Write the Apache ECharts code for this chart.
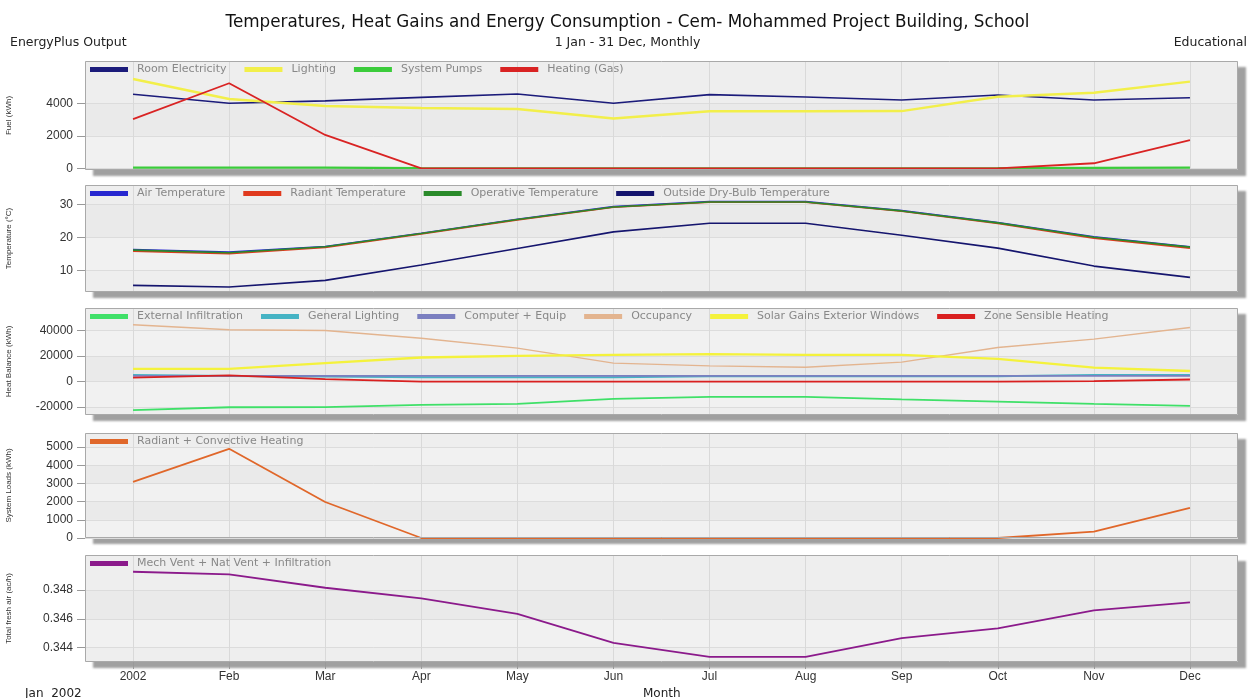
<!DOCTYPE html>
<html>
<head>
<meta charset="utf-8">
<title>Temperatures, Heat Gains and Energy Consumption</title>
<script src="https://cdn.jsdelivr.net/npm/echarts@6/dist/echarts.min.js"></script>
<style>
  html, body { margin: 0; padding: 0; background: #ffffff; }
  #chart { width: 1255px; height: 698px; }
</style>
</head>
<body>
<div id="chart"></div>
<script>
// Monthly categories (first tick carries the year)
const months = ['2002', 'Feb', 'Mar', 'Apr', 'May', 'Jun', 'Jul', 'Aug', 'Sep', 'Oct', 'Nov', 'Dec'];

// Fuel (kWh)
const roomElectricity = [4550, 4000, 4150, 4360, 4570, 4000, 4530, 4390, 4200, 4510, 4200, 4340];
const lighting        = [5490, 4260, 3830, 3710, 3650, 3060, 3510, 3510, 3520, 4400, 4650, 5330];
const systemPumps     = [45, 50, 40, 10, 0, 0, 0, 0, 0, 5, 30, 45];
const heatingGas      = [3030, 5230, 2050, 0, 0, 0, 0, 0, 0, 0, 310, 1740];

// Temperature (°C)
const airTemp       = [16.4, 15.6, 17.3, 21.3, 25.5, 29.3, 30.8, 30.8, 28.1, 24.5, 20.2, 17.2];
const radiantTemp   = [15.9, 15.1, 17.0, 21.1, 25.3, 29.1, 30.6, 30.6, 27.9, 24.2, 19.8, 16.8];
const operativeTemp = [16.2, 15.4, 17.2, 21.2, 25.4, 29.2, 30.7, 30.7, 28.0, 24.4, 20.1, 17.1];
const outsideTemp   = [5.6, 5.1, 7.1, 11.7, 16.7, 21.7, 24.3, 24.3, 20.7, 16.8, 11.4, 8.0];

// Heat balance (kWh)
const extInfiltration = [-22300, -20100, -20000, -18300, -17500, -13600, -12000, -12000, -13900, -15700, -17500, -19100];
const generalLighting = [5300, 4500, 4000, 3500, 3500, 3500, 4300, 4300, 4300, 4300, 5300, 5300];
const computerEquip   = [4500, 4500, 4500, 4500, 4500, 4500, 4500, 4500, 4500, 4500, 4500, 4500];
const occupancy       = [44600, 40700, 40100, 34100, 26300, 14500, 12400, 11300, 15300, 26800, 33400, 42500];
const solarGains      = [10000, 10000, 14500, 18900, 20200, 21000, 21600, 21000, 21000, 17900, 11000, 8400];
const zoneHeating     = [3080, 4900, 1980, 0, 0, 0, 0, 0, 0, 0, 350, 1660];

// System loads (kWh)
const radConvHeating = [3080, 4900, 1980, 0, 0, 0, 0, 0, 0, 0, 350, 1660];

// Total fresh air (ac/h)
const freshAir = [0.34927, 0.34909, 0.34816, 0.34742, 0.34634, 0.34433, 0.34336, 0.34336, 0.34466, 0.34534, 0.34659, 0.34715];

// Axis tick values per panel
const fuelTicks = [0, 2000, 4000];
const tempTicks = [10, 20, 30];
const balanceTicks = [-20000, 0, 20000, 40000];
const loadTicks = [0, 1000, 2000, 3000, 4000, 5000];
const airTicks = [0.344, 0.346, 0.348];

const FONT = '"Liberation Sans", Arial, sans-serif';
const WIDE = '"DejaVu Sans", sans-serif';
const monthIdx = months.map((m, i) => i);

// Panel layout
const W = 1255, PL = 85, PR = 17;
const panelTops = [61, 185, 308, 433, 555];
const panelHeights = [109, 107, 107, 105, 107];

const grids = panelTops.map((t, i) => ({
  left: PL, right: PR, top: t, height: panelHeights[i],
  outerBoundsMode: 'none',
  containLabel: false,
  show: true,
  backgroundColor: '#eeeeee',
  borderWidth: 0,
  shadowColor: 'rgba(150,150,150,0.9)',
  shadowBlur: 2,
  shadowOffsetX: 8,
  shadowOffsetY: 6
}));

const xAxes = panelTops.map((t, i) => {
  const last = i === panelTops.length - 1;
  return {
    type: 'value', gridIndex: i, min: -0.5, max: 11.5,
    axisLine: { show: false, onZero: false },
    axisTick: { show: last, customValues: monthIdx, length: 7, lineStyle: { color: '#999' } },
    axisLabel: {
      show: last, customValues: monthIdx, margin: 9,
      fontFamily: FONT, fontSize: 12, color: '#333',
      formatter: v => months[Math.round(v)]
    },
    splitLine: { show: true, lineStyle: { color: '#d9d9d9', width: 1 } }
  };
});

function yAxis(i, name, min, max, ticks, fmt) {
  return {
    type: 'value', gridIndex: i, min: min, max: max,
    name: name, nameLocation: 'middle', nameGap: 72, nameRotate: 90,
    nameTextStyle: { fontFamily: FONT, fontSize: 8, color: '#333' },
    axisLine: { show: false, onZero: false },
    axisTick: { show: true, customValues: ticks, length: 8, lineStyle: { color: '#999' } },
    axisLabel: {
      customValues: ticks, margin: 12,
      fontFamily: FONT, fontSize: 12, color: '#333',
      formatter: fmt || (v => String(v))
    },
    splitLine: { show: true, lineStyle: { color: '#dcdcdc', width: 1 } },
    splitArea: { show: true, areaStyle: { color: ['#f1f1f1', '#eaeaea'] } }
  };
}

const yAxes = [
  yAxis(0, 'Fuel (kWh)', -105, 6600, fuelTicks),
  yAxis(1, 'Temperature (°C)', 3.6, 35.8, tempTicks),
  yAxis(2, 'Heat Balance (kWh)', -26200, 57800, balanceTicks),
  yAxis(3, 'System Loads (kWh)', 0, 5770, loadTicks),
  yAxis(4, 'Total fresh air (ac/h)', 0.34301, 0.35043, airTicks, v => v.toFixed(3))
];

function line(name, values, color, width, gi) {
  return {
    name: name, type: 'line', xAxisIndex: gi, yAxisIndex: gi,
    data: values.map((v, i) => [i, v]),
    symbol: 'none', smooth: false, animation: false,
    lineStyle: { color: color, width: width },
    itemStyle: { color: color }
  };
}

const series = [
  line('Room Electricity', roomElectricity, '#1b1b7a', 1.6, 0),
  line('Lighting', lighting, '#f2ef4a', 2.4, 0),
  line('System Pumps', systemPumps, '#3bcc3b', 2.2, 0),
  line('Heating (Gas)', heatingGas, '#d92323', 1.8, 0),

  line('Air Temperature', airTemp, '#2727d0', 1.6, 1),
  line('Radiant Temperature', radiantTemp, '#e03a1e', 1.6, 1),
  line('Operative Temperature', operativeTemp, '#2a8a2a', 1.6, 1),
  line('Outside Dry-Bulb Temperature', outsideTemp, '#15156e', 1.6, 1),

  line('External Infiltration', extInfiltration, '#3fe068', 1.8, 2),
  line('General Lighting', generalLighting, '#45b3c4', 2, 2),
  line('Computer + Equip', computerEquip, '#7b7fc0', 1.8, 2),
  line('Occupancy', occupancy, '#e3b48f', 1.4, 2),
  line('Solar Gains Exterior Windows', solarGains, '#f4f23c', 2.4, 2),
  line('Zone Sensible Heating', zoneHeating, '#d92020', 1.8, 2),

  line('Radiant + Convective Heating', radConvHeating, '#e0672a', 1.8, 3),

  line('Mech Vent + Nat Vent + Infiltration', freshAir, '#8b1a8b', 1.8, 4)
];

const legendGroups = [
  ['Room Electricity', 'Lighting', 'System Pumps', 'Heating (Gas)'],
  ['Air Temperature', 'Radiant Temperature', 'Operative Temperature', 'Outside Dry-Bulb Temperature'],
  ['External Infiltration', 'General Lighting', 'Computer + Equip', 'Occupancy', 'Solar Gains Exterior Windows', 'Zone Sensible Heating'],
  ['Radiant + Convective Heating'],
  ['Mech Vent + Nat Vent + Infiltration']
];

const legends = legendGroups.map((names, i) => ({
  data: names,
  left: PL, top: panelTops[i] - 2,
  orient: 'horizontal',
  icon: 'rect', itemWidth: 38, itemHeight: 5, itemGap: 18,
  selectedMode: false,
  textStyle: { fontFamily: WIDE, fontSize: 11, color: '#888888', padding: [0, 0, 0, 4] }
}));

// Thin frame drawn over each panel
const frames = panelTops.map((t, i) => ({
  type: 'rect', silent: true, z: 100,
  shape: { x: PL + 0.5, y: t + 0.5, width: W - PL - PR - 1, height: panelHeights[i] - 1 },
  style: { fill: null, stroke: '#a9a9a9', lineWidth: 1 }
}));

const chart = echarts.init(document.getElementById('chart'), null, { renderer: 'canvas' });
chart.setOption({
  backgroundColor: '#ffffff',
  animation: false,
  title: [
    { text: 'Temperatures, Heat Gains and Energy Consumption - Cem- Mohammed Project Building, School',
      left: 'center', top: 9,
      textStyle: { fontFamily: WIDE, fontSize: 16.8, fontWeight: 'normal', color: '#111' } },
    { text: '1 Jan - 31 Dec, Monthly', left: 'center', top: 31,
      textStyle: { fontFamily: WIDE, fontSize: 12.5, fontWeight: 'normal', color: '#222' } },
    { text: 'EnergyPlus Output', left: 5, top: 31,
      textStyle: { fontFamily: WIDE, fontSize: 12.5, fontWeight: 'normal', color: '#222' } },
    { text: 'Educational', right: 3, top: 31,
      textStyle: { fontFamily: WIDE, fontSize: 12.5, fontWeight: 'normal', color: '#222' } },
    { text: 'Jan  2002', left: 20, top: 683,
      textStyle: { fontFamily: WIDE, fontSize: 12, fontWeight: 'normal', color: '#222' } },
    { text: 'Month', left: 638, top: 683,
      textStyle: { fontFamily: WIDE, fontSize: 12, fontWeight: 'normal', color: '#222' } }
  ],
  legend: legends,
  grid: grids,
  xAxis: xAxes,
  yAxis: yAxes,
  graphic: frames,
  series: series
});
</script>
</body>
</html>
